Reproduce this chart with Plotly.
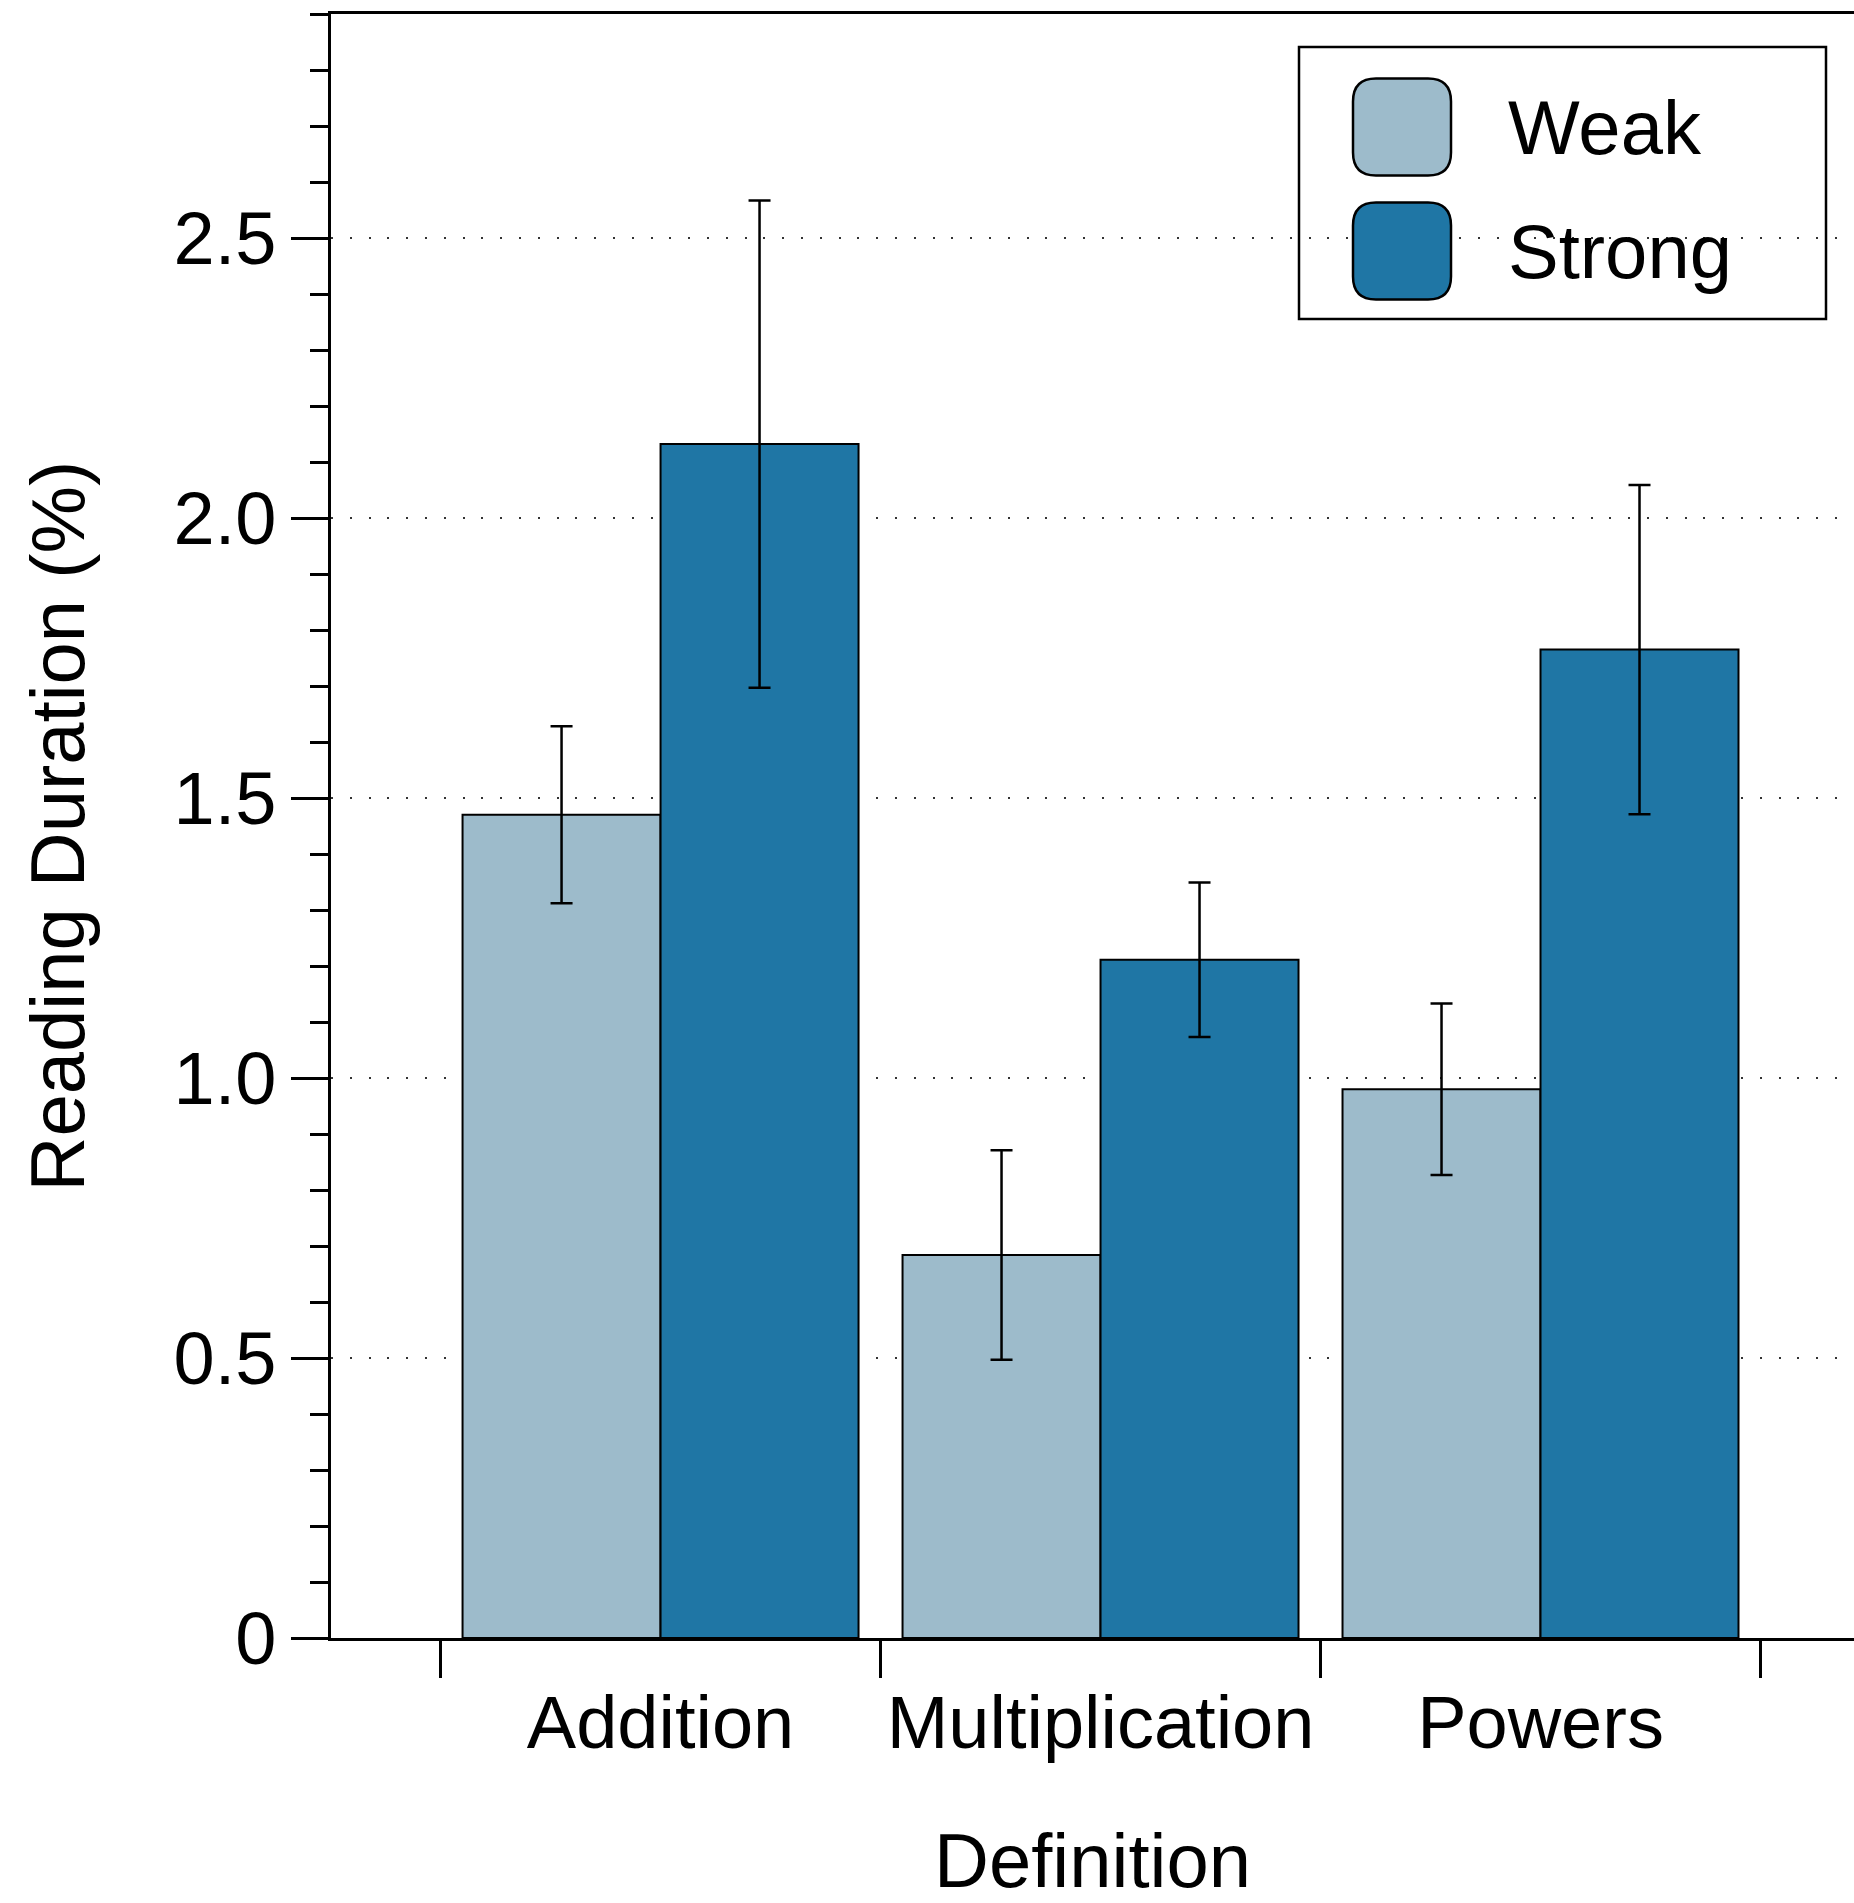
import plotly.graph_objects as go

# ---------------- data ----------------
categories = ["Addition", "Multiplication", "Powers"]
series_names = ["Weak", "Strong"]
weak_values = [1.470, 0.684, 0.980]
weak_errors = [0.158, 0.187, 0.153]
strong_values = [2.132, 1.211, 1.765]
strong_errors = [0.435, 0.138, 0.294]
y_tick_values = [0, 0.5, 1.0, 1.5, 2.0, 2.5]
y_tick_labels = ["0", "0.5", "1.0", "1.5", "2.0", "2.5"]

# ---------------- style / layout constants ----------------
W, H = 1854, 1903
ML, MR, MT, MB = 331, 0, 14, 265
FONT = "Liberation Sans"
FS = 76
WEAK_COLOR = "#9dbbcb"
STRONG_COLOR = "#1f76a5"
LW = 2.5

PW = W - ML - MR
PH = H - MT - MB


def px_x(px):
    return (px - ML) / PW


def px_y(py):
    return (H - MB - py) / PH


def rounded_rect(x0, y0, x1, y1, r):
    # pixel coords (y down) -> paper path
    X = lambda v: px_x(v)
    Y = lambda v: px_y(v)
    return (
        f"M{X(x0 + r)},{Y(y0)} L{X(x1 - r)},{Y(y0)} Q{X(x1)},{Y(y0)} {X(x1)},{Y(y0 + r)} "
        f"L{X(x1)},{Y(y1 - r)} Q{X(x1)},{Y(y1)} {X(x1 - r)},{Y(y1)} "
        f"L{X(x0 + r)},{Y(y1)} Q{X(x0)},{Y(y1)} {X(x0)},{Y(y1 - r)} "
        f"L{X(x0)},{Y(y0 + r)} Q{X(x0)},{Y(y0)} {X(x0 + r)},{Y(y0)} Z"
    )


fig = go.Figure()
series = [
    (series_names[0], weak_values, weak_errors, WEAK_COLOR),
    (series_names[1], strong_values, strong_errors, STRONG_COLOR),
]
for name, vals, errs, color in series:
    fig.add_trace(
        go.Bar(
            x=categories,
            y=vals,
            name=name,
            marker=dict(color=color, line=dict(color="black", width=2)),
            error_y=dict(type="data", array=errs, visible=True, color="black",
                         thickness=2.5, width=11),
            showlegend=False,
        )
    )

# custom legend (large rounded swatches like the reference)
shapes = [
    dict(type="rect", xref="paper", yref="paper",
         x0=px_x(1299), x1=px_x(1826), y0=px_y(319), y1=px_y(47),
         line=dict(color="black", width=2.5), fillcolor="rgba(0,0,0,0)", layer="above"),
]
annotations = []
legend_rows = [(series_names[0], WEAK_COLOR, 127), (series_names[1], STRONG_COLOR, 251)]
for name, color, cy in legend_rows:
    shapes.append(dict(type="path", xref="paper", yref="paper",
                       path=rounded_rect(1353, cy - 48.5, 1451, cy + 48.5, 23),
                       fillcolor=color, line=dict(color="black", width=2.5), layer="above"))
    annotations.append(dict(xref="paper", yref="paper", x=px_x(1506), y=px_y(cy),
                            xanchor="left", yanchor="middle", text=name, showarrow=False,
                            font=dict(family=FONT, size=76, color="black")))

fig.update_layout(
    width=W, height=H,
    margin=dict(l=ML, r=MR, t=MT, b=MB, pad=0),
    paper_bgcolor="white", plot_bgcolor="white",
    font=dict(family=FONT, size=FS, color="black"),
    barmode="group", bargap=0.1, bargroupgap=0,
    shapes=shapes, annotations=annotations,
    showlegend=False,
)

fig.update_xaxes(
    type="category", range=[-0.749, 2.7125], automargin=False,
    showline=True, linecolor="black", linewidth=LW, mirror=True,
    ticks="outside", tickson="boundaries", ticklen=37, tickwidth=LW, tickcolor="black",
    tickangle=0, ticklabelstandoff=18,
    showgrid=False, zeroline=False,
    tickfont=dict(family=FONT, size=74, color="black"),
    title=dict(text="Definition", font=dict(family=FONT, size=FS, color="black"), standoff=92),
)

fig.update_yaxes(
    range=[0, 2.9], automargin=False,
    showline=True, linecolor="black", linewidth=LW,
    ticks="outside", ticklen=37, tickwidth=LW, tickcolor="black",
    tickvals=y_tick_values, ticktext=y_tick_labels,
    tickfont=dict(family=FONT, size=74, color="black"),
    showgrid=True, gridcolor="#333333", gridwidth=2, griddash="2px,16.8px",
    zeroline=False,
    minor=dict(dtick=0.1, tick0=0, ticks="outside", ticklen=18, tickwidth=LW,
               tickcolor="black", showgrid=False),
    title=dict(text="Reading Duration (%)", font=dict(family=FONT, size=FS, color="black"), standoff=64),
)

fig.write_html("out.html")
